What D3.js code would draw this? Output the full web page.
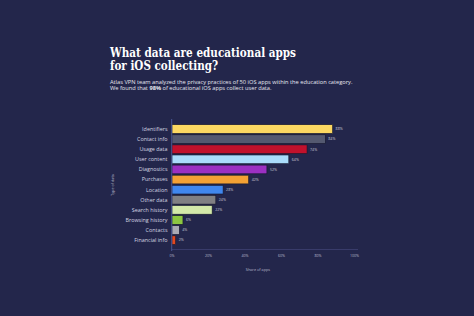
<!DOCTYPE html>
<html>
<head>
<meta charset="utf-8">
<script src="https://cdn.jsdelivr.net/npm/d3@7"></script>
<style>
  html, body { margin: 0; padding: 0; background: #23264b; }
  svg { display: block; }
</style>
</head>
<body>
<svg id="chart"></svg>
<script>
var svg_width = 474;
var svg_height = 316;

// data (share of 50 iOS education apps)
var categories = ['Identifiers', 'Contact info', 'Usage data', 'User content', 'Diagnostics',
  'Purchases', 'Location', 'Other data', 'Search history', 'Browsing history', 'Contacts', 'Financial info'];
var shares = [88, 84, 74, 64, 52, 42, 28, 24, 22, 6, 4, 2];
var bar_colors = ['#fcd862', '#545970', '#c1112c', '#aadcfb', '#9b30c2', '#f4a134',
  '#4087ee', '#808083', '#d3e9a9', '#8cc641', '#a9aab3', '#e2491f'];
var x_ticks = [0, 20, 40, 60, 80, 100];

var svg = d3.select('#chart')
  .attr('width', svg_width)
  .attr('height', svg_height);

svg.append('rect')
  .attr('width', svg_width)
  .attr('height', svg_height)
  .attr('fill', '#23264b');

// title + subtitle
var title_lines = ['What data are educational apps', 'for iOS collecting?'];
var title_widths = [186, 108];
svg.selectAll('text.title')
  .data(title_lines)
  .enter()
  .append('text')
  .classed('title', true)
  .attr('x', 110)
  .attr('y', function(d, i) {return(56.5 + i * 13.5);})
  .attr('textLength', function(d, i) {return(title_widths[i]);})
  .attr('lengthAdjust', 'spacingAndGlyphs')
  .attr('fill', '#ffffff')
  .style('font-family', 'DejaVu Serif')
  .style('font-weight', 'bold')
  .style('font-size', '12.5px')
  .text(function(d) {return(d);});

svg.append('text')
  .attr('x', 110)
  .attr('y', 83.5)
  .attr('fill', '#e6e7ef')
  .style('font-family', 'Open Sans')
  .style('font-size', '5.7px')
  .text('Atlas VPN team analyzed the privacy practices of 50 iOS apps within the education category.');

var sub2 = svg.append('text')
  .attr('x', 110)
  .attr('y', 90.3)
  .attr('fill', '#e6e7ef')
  .style('font-family', 'Open Sans')
  .style('font-size', '5.7px');
sub2.append('tspan').text('We found that ');
sub2.append('tspan').style('font-weight', 'bold').text('98%');
sub2.append('tspan').text(' of educational iOS apps collect user data.');

// scales
var xScale = d3.scaleLinear().domain([0, 100]).range([172, 354.5]);
var yScale = d3.scaleBand().domain(categories).range([124.5, 244.7]).paddingInner(0.14).paddingOuter(0.02);

// horizontal base line
svg.append('line')
  .attr('x1', xScale(0))
  .attr('x2', 358)
  .attr('y1', 249.5)
  .attr('y2', 249.5)
  .attr('stroke', '#3d4172')
  .attr('stroke-width', 0.8);

// bars
svg.selectAll('rect.bar')
  .data(categories)
  .enter()
  .append('rect')
  .classed('bar', true)
  .attr('x', xScale(0))
  .attr('y', function(d) {return(yScale(d));})
  .attr('width', function(d, i) {return(xScale(shares[i]) - xScale(0));})
  .attr('height', yScale.bandwidth())
  .attr('fill', function(d, i) {return(bar_colors[i]);})
  .attr('stroke', '#15172c')
  .attr('stroke-width', 0.6);

// value labels
svg.selectAll('text.value')
  .data(categories)
  .enter()
  .append('text')
  .classed('value', true)
  .attr('x', function(d, i) {return(xScale(shares[i]) + 3);})
  .attr('y', function(d) {return(yScale(d) + yScale.bandwidth() / 2);})
  .attr('dy', '0.35em')
  .attr('fill', '#c9cad8')
  .style('font-family', 'Open Sans')
  .style('font-size', '3.6px')
  .text(function(d, i) {return(shares[i] + '%');});

// category labels
svg.selectAll('text.cat')
  .data(categories)
  .enter()
  .append('text')
  .classed('cat', true)
  .attr('x', 167.5)
  .attr('y', function(d) {return(yScale(d) + yScale.bandwidth() / 2);})
  .attr('dy', '0.35em')
  .attr('text-anchor', 'end')
  .attr('fill', '#d4d5e2')
  .style('font-family', 'Open Sans')
  .style('font-size', '5.4px')
  .text(function(d) {return(d);});

// vertical axis line
svg.append('line')
  .attr('x1', 171.7)
  .attr('x2', 171.7)
  .attr('y1', 119)
  .attr('y2', 251)
  .attr('stroke', '#5363a8')
  .attr('stroke-width', 0.8);

// x tick labels
svg.selectAll('text.tick')
  .data(x_ticks)
  .enter()
  .append('text')
  .classed('tick', true)
  .attr('x', function(d) {return(xScale(d));})
  .attr('y', 256.5)
  .attr('text-anchor', 'middle')
  .attr('fill', '#b9bbcc')
  .style('font-family', 'Open Sans')
  .style('font-size', '3.6px')
  .text(function(d) {return(d + '%');});

// axis titles
svg.append('text')
  .attr('x', 258)
  .attr('y', 271)
  .attr('text-anchor', 'middle')
  .attr('fill', '#b9bbcc')
  .style('font-family', 'Open Sans')
  .style('font-size', '3.8px')
  .text('Share of apps');

svg.append('text')
  .attr('transform', 'translate(114,185) rotate(-90)')
  .attr('text-anchor', 'middle')
  .attr('fill', '#b9bbcc')
  .style('font-family', 'Open Sans')
  .style('font-size', '3.8px')
  .text('Type of data');
</script>
</body>
</html>
